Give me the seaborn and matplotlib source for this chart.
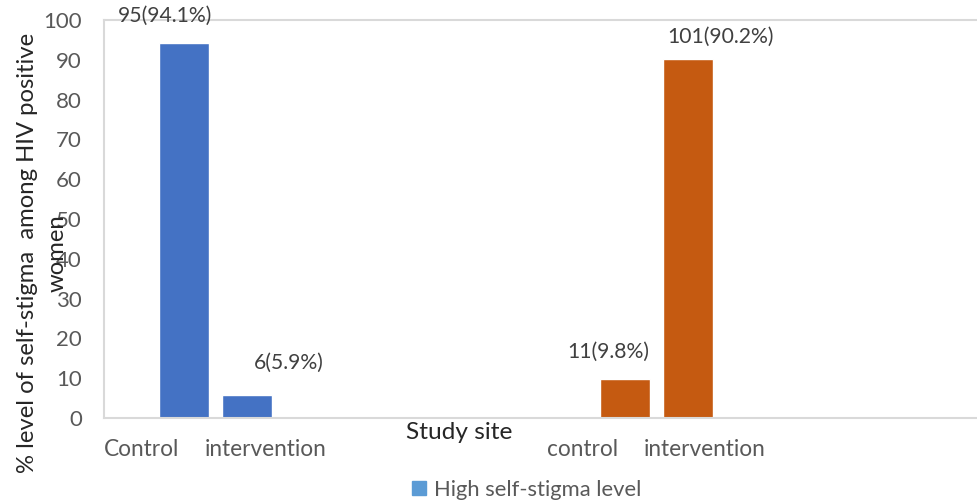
import matplotlib
matplotlib.use("Agg")
import matplotlib.pyplot as plt
from matplotlib.patches import Patch
from matplotlib.transforms import blended_transform_factory
import seaborn as sns
import pandas as pd

# Study arms and self-stigma results
sites = ["Control", "intervention", "control", "intervention"]
slot = [0, 1, 7, 8]
counts = [95, 6, 11, 101]
percent = [94.1, 5.9, 9.8, 90.2]
group = ["first", "first", "second", "second"]
bar_colors = {"first": "#4472C4", "second": "#C55A11"}
ylabel_lines = ["% level of self-stigma  among HIV positive", "women"]

# label placement relative to each bar (x in slots, y in percent points)
label_dx = [-0.30, 0.67, -0.27, 0.51]
label_dy = [6.9, 7.9, 6.8, 5.5]
tick_dx = [-0.67, 0.29, -0.67, 0.26]

sns.set_theme(style="white")
plt.rcParams["font.family"] = ["Lato", "DejaVu Sans"]

df = pd.DataFrame({"slot": slot, "percent": percent, "group": group})

fig = plt.figure(figsize=(9.77, 5.04), dpi=100)
ax = fig.add_axes([104 / 977, 86 / 504, 873 / 977, 398 / 504])

sns.barplot(data=df, x="slot", y="percent", hue="group", palette=bar_colors,
            native_scale=True, dodge=False, width=50 / 63, legend=False,
            saturation=1, ax=ax)

ax.set_xlim(-80 / 63, (977 - 184) / 63)
ax.set_ylim(0, 100)
ax.set_yticks(range(0, 101, 10))
ax.set_xticks([])
ax.set_xlabel("")
ax.set_ylabel("")
ax.tick_params(axis="y", length=0, pad=16, labelsize=16, labelcolor="#595959")

for side in ["left", "bottom", "top"]:
    ax.spines[side].set_color("#d9d9d9")
    ax.spines[side].set_linewidth(1.5)
ax.spines["right"].set_visible(False)

# value labels
for x, p, n, dx, dy in zip(slot, percent, counts, label_dx, label_dy):
    ax.text(x + dx, p + dy, f"{n}({p}%)", ha="center", va="center",
            fontsize=15.2, color="#404040", clip_on=False)

# category names under the axis
trans = blended_transform_factory(ax.transData, ax.transAxes)
for x, name, dx in zip(slot, sites, tick_dx):
    ax.text(x + dx, -0.078, name, transform=trans, ha="center", va="center",
            fontsize=16.3, color="#595959")

ax.text((459 - 184) / 63, -0.036, "Study site", transform=trans,
        ha="center", va="center", fontsize=17.6, color="#262626")

# wrapped y-axis title, one line per text
for xpix, line in zip([28, 57], ylabel_lines):
    fig.text(xpix / 977, 1 - 253 / 504, line, rotation=90, ha="center",
             va="center", fontsize=17.2, color="#262626")

fig.legend(handles=[Patch(color="#5B9BD5", label="High self-stigma level")],
           loc="center", bbox_to_anchor=(527 / 977, 1 - 490 / 504),
           frameon=False, fontsize=15.8, handlelength=0.6, handleheight=0.6,
           handletextpad=0.4, labelcolor="#595959")

fig.savefig("out.png", dpi=100)
